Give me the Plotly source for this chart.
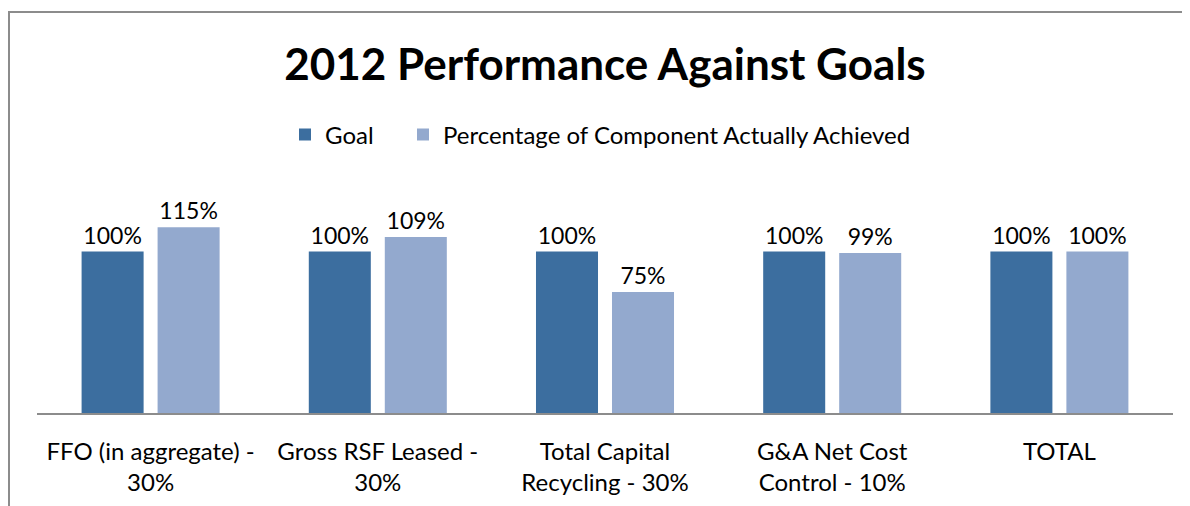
import plotly.graph_objects as go

categories = ["FFO (in aggregate) -<br>30%", "Gross RSF Leased -<br>30%",
              "Total Capital<br>Recycling - 30%", "G&A Net Cost<br>Control - 10%", "TOTAL"]
goal = [1.00, 1.00, 1.00, 1.00, 1.00]
achieved = [1.15, 1.09, 0.75, 0.99, 1.00]
series_names = ["Goal", "Percentage of Component Actually Achieved"]
title_text = "<b>2012 Performance Against Goals</b>"

FONT = "Lato"
OFF = 8  # page body margin
W, H = 1190 - OFF, 506 - OFF
L, R, T, B = 37 - OFF, 17, 180 - OFF, 93
plot_h = H - T - B
pw = W - L - R
ymax = plot_h / 161.5

fig = go.Figure()
fig.add_trace(go.Bar(x=categories, y=goal, name=series_names[0], legend="legend",
                     marker=dict(color="#3C6E9F", line=dict(width=0)),
                     text=[f"{v*100:.0f}%" for v in goal], textposition="outside",
                     textfont=dict(family=FONT, size=23, color="black"), cliponaxis=False))
fig.add_trace(go.Bar(x=categories, y=achieved, name=series_names[1], legend="legend2",
                     marker=dict(color="#93A9CE", line=dict(width=0)),
                     text=[f"{v*100:.0f}%" for v in achieved], textposition="outside",
                     textfont=dict(family=FONT, size=23, color="black"), cliponaxis=False))

fig.add_shape(type="rect", xref="paper", yref="paper",
              x0=(9 - OFF - L) / pw, x1=(W + 20 - L) / pw,
              y0=(H - B - (H + 20)) / plot_h, y1=(H - B - (12 - OFF)) / plot_h,
              line=dict(color="#8C8C8C", width=2), fillcolor="rgba(0,0,0,0)", layer="below")

leg_y = (H - B - (135 - OFF)) / plot_h
leg_common = dict(orientation="h", xanchor="left", xref="paper", y=leg_y, yanchor="middle",
                  font=dict(family=FONT, size=24, color="black"), bgcolor="rgba(0,0,0,0)")

fig.update_layout(
    width=W, height=H,
    margin=dict(l=L, r=R, t=T, b=B, autoexpand=False),
    paper_bgcolor="white", plot_bgcolor="white",
    barmode="group", bargap=0.331, bargroupgap=0.184,
    title=dict(text=title_text, x=0.5, xref="paper", xanchor="center",
               y=1 - (65 - OFF) / H, yanchor="middle",
               font=dict(family=FONT, size=44, color="black")),
    legend=dict(x=(285 - OFF - L) / pw, **leg_common),
    legend2=dict(x=(403 - OFF - L) / pw, **leg_common),
    xaxis=dict(showline=True, linecolor="#8C8C8C", linewidth=2, ticks="",
               showgrid=False, tickfont=dict(family=FONT, size=24, color="black"),
               ticklabelstandoff=16),
    yaxis=dict(visible=False, range=[0, ymax], showgrid=False, zeroline=False),
    showlegend=True,
)

fig.write_html("out.html")
